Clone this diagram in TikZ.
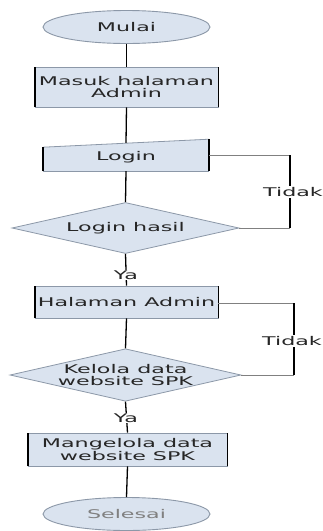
\documentclass[tikz,border=0pt]{standalone}
\usepackage{fontspec}
\usetikzlibrary{shapes.geometric,calc}
\newfontfamily\flowfont[FakeStretch=1.85]{DejaVu Sans}
\definecolor{boxfill}{HTML}{DAE3EF}
\definecolor{boxedge}{HTML}{8C98A8}
\definecolor{txt}{HTML}{262626}
\tikzset{
  base/.style={font=\flowfont\fontsize{12}{12.5}\selectfont, text=txt, align=center, inner sep=0pt},
  term/.style={base, ellipse, draw=boxedge, line width=0.9pt, fill=boxfill, minimum width=167pt, minimum height=33pt},
  procbox/.style={base, rectangle, draw=boxedge, line width=0.8pt, fill=boxfill},
  decide/.style={base, diamond, draw=boxedge, line width=0.8pt, fill=boxfill, aspect=4.4},
  lbl/.style={font=\flowfont\fontsize{12}{12.5}\selectfont, text=txt, fill=white, inner sep=1pt},
  flow/.style={line width=1.3pt, black},
  branch/.style={line width=0.8pt, gray},
  side/.style={line width=1.8pt, black}
}
\begin{document}
\begin{tikzpicture}[x=1pt,y=-1pt]
\useasboundingbox[fill=white] (0,0) rectangle (322,531);
% nodes
\node[term] (mulai) at (126.5,27) {Mulai};
\node[procbox, minimum width=183pt, minimum height=40pt] (masuk) at (126.5,87) {Masuk halaman\\Admin};
\node[base, minimum width=166pt, minimum height=28pt] (login) at (126,157) {};
\node[decide, minimum width=227pt, minimum height=51pt] (lh) at (125.5,228) {Login hasil};
\node[procbox, minimum width=183pt, minimum height=32pt] (ha) at (126.5,302) {Halaman Admin};
\node[decide, minimum width=227pt, minimum height=50pt] (kd) at (125.5,375) {Kelola data\\website SPK};
\node[procbox, minimum width=199pt, minimum height=33pt] (mg) at (127.5,449.5) {Mangelola data\\website SPK};
\node[term, text=gray] (sel) at (126.5,514) {Selesai};
% manual input shape for Login
\fill[boxfill] (login.south west) -- ($(login.south west)+(0,-24)$) -- ($(login.south east)+(0,-32)$) -- (login.south east) -- cycle;
\draw[boxedge, line width=0.8pt] (login.south west) -- (login.south east);
\draw[boxedge, line width=0.8pt] ($(login.south west)+(0,-24)$) -- ($(login.south east)+(0,-32)$);
\node[base] (logintext) at (login.center) {Login};
\draw[side] (login.south west) -- ($(login.south west)+(0,-24)$);
\draw[side] (login.south east) -- ($(login.south east)+(0,-32)$);
% thick sides of process boxes
\foreach \n in {masuk,ha,mg}{
  \draw[side] (\n.south west) -- (\n.north west);
  \draw[side] (\n.south east) -- (\n.north east);
}
% main flow
\draw[flow] (mulai.south) -- (masuk.north);
\draw[flow] (masuk.south) -- (login.north);
\draw[flow] (login.south) -- (lh.north);
\draw[flow] (lh.south) -- (ha.north);
\draw[flow] (ha.south) -- (kd.north);
\draw[flow] (kd.south) -- (mg.north);
\draw[flow] (mg.south) -- (sel.north);
\node[lbl] (ya1) at (126,275) {Ya};
\node[lbl] (ya2) at (126,418) {Ya};
% branches
\coordinate (c1) at (290,155);
\coordinate (c2) at (294,303);
\draw[branch] (login.east |- c1) -- (c1);
\draw[branch] (lh.east) -- (lh.east -| c1);
\draw[flow] (c1) -- (lh.east -| c1);
\draw[branch] (ha.east |- c2) -- (c2);
\draw[branch] (kd.east) -- (kd.east -| c2);
\draw[flow] (c2) -- (kd.east -| c2);
\node[lbl] (t1) at (293,192) {Tidak};
\node[lbl] (t2) at (292,341) {Tidak};
\end{tikzpicture}
\end{document}
